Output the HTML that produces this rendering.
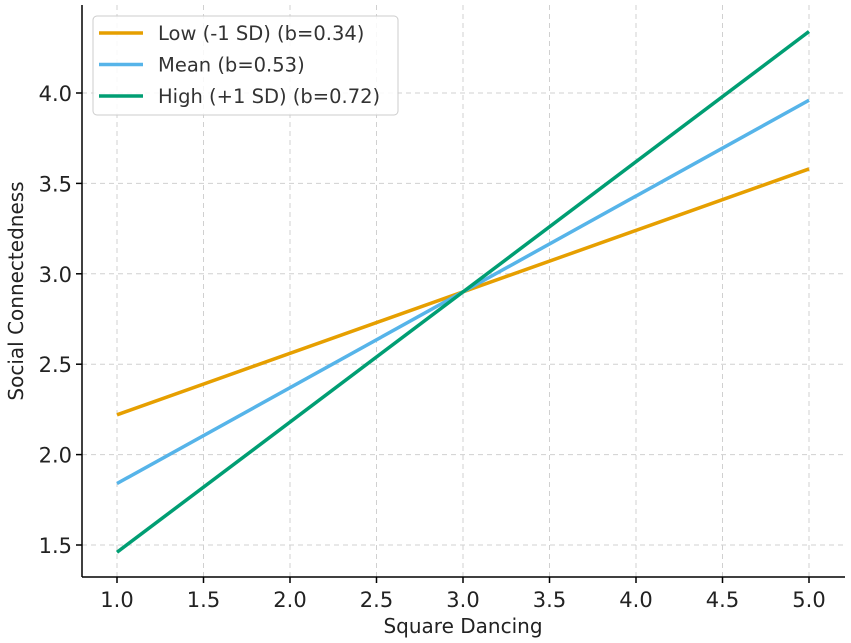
<!DOCTYPE html>
<html><head><meta charset="utf-8"><style>
html,body{margin:0;padding:0;background:#fff;}
svg{display:block;font-family:"DejaVu Sans","Liberation Sans",sans-serif;}
</style></head><body>
<svg id="chart" width="851" height="643" viewBox="0 0 851 643">
<g id="grid"></g>
<g id="axes"></g>
<g id="series"></g>
<text x="463" y="633" text-anchor="middle" font-size="20" fill="#222">Square Dancing</text>
<text transform="translate(23,291) rotate(-90)" text-anchor="middle" font-size="20" fill="#222">Social Connectedness</text>
<g id="legend">
<rect x="93" y="16" width="305" height="99" rx="4" fill="#fff" fill-opacity="0.85" stroke="#ccc"/>
</g>
</svg>
<script>
const xTicks=[1.0,1.5,2.0,2.5,3.0,3.5,4.0,4.5,5.0];
const yTicks=[1.5,2.0,2.5,3.0,3.5,4.0];
const seriesNames=["Low (-1 SD) (b=0.34)","Mean (b=0.53)","High (+1 SD) (b=0.72)"];
const seriesColors=["#E69F00","#56B4E9","#009E73"];
const xValues=[1,5];
const lowValues=[2.22,3.58];
const meanValues=[1.84,3.96];
const highValues=[1.46,4.34];
const allSeries=[lowValues,meanValues,highValues];

const NS="http://www.w3.org/2000/svg";
const L=82,R=845,T=5,B=577;
const xs=v=>117+(v-1)*173;
const ys=v=>545-(v-1.5)*180.8;
function mk(tag,attrs,parent){const e=document.createElementNS(NS,tag);for(const k in attrs)e.setAttribute(k,attrs[k]);parent.appendChild(e);return e;}
const grid=document.getElementById('grid'),axes=document.getElementById('axes'),ser=document.getElementById('series'),leg=document.getElementById('legend');
xTicks.forEach(t=>{
  const g=mk('line',{x1:xs(t),x2:xs(t),y1:T,y2:B,stroke:'#d0d0d0','stroke-dasharray':'5,4','stroke-width':1},grid);
  
  
  const tk=mk('line',{x1:xs(t),x2:xs(t),y1:B,y2:B+6,stroke:'#000','stroke-width':1.5},axes);
  
  
  const lb=mk('text',{x:xs(t),y:B+30,'text-anchor':'middle','font-size':21,fill:'#222'},axes);
  lb.textContent=t.toFixed(1);
  
  
});
yTicks.forEach(t=>{
  const g=mk('line',{x1:L,x2:R,y1:ys(t),y2:ys(t),stroke:'#d0d0d0','stroke-dasharray':'5,4','stroke-width':1},grid);
  
  
  const tk=mk('line',{x1:L-6,x2:L,y1:ys(t),y2:ys(t),stroke:'#000','stroke-width':1.5},axes);
  
  
  const lb=mk('text',{x:L-10,y:ys(t)+8,'text-anchor':'end','font-size':21,fill:'#222'},axes);
  lb.textContent=t.toFixed(1);
  
  
});
const sp1=mk('line',{x1:L,x2:L,y1:T,y2:B,stroke:'#000','stroke-width':1.5},axes);


const sp2=mk('line',{x1:L,x2:R,y1:B,y2:B,stroke:'#000','stroke-width':1.5},axes);


allSeries.forEach((vals,i)=>{
  const pts=vals.map((v,j)=>xs(xValues[j])+','+ys(v)).join(' ');
  const pl=mk('polyline',{points:pts,fill:'none',stroke:seriesColors[i],'stroke-width':3.5},ser);
  
  
  const y=33+i*31.5;
  const ll=mk('line',{x1:99,x2:143,y1:y,y2:y,stroke:seriesColors[i],'stroke-width':3.5},leg);
  
  
  const lt=mk('text',{x:158,y:y+7,'font-size':19.5,fill:'#333'},leg);
  lt.textContent=seriesNames[i];
  
  
});
</script>
</body></html>
